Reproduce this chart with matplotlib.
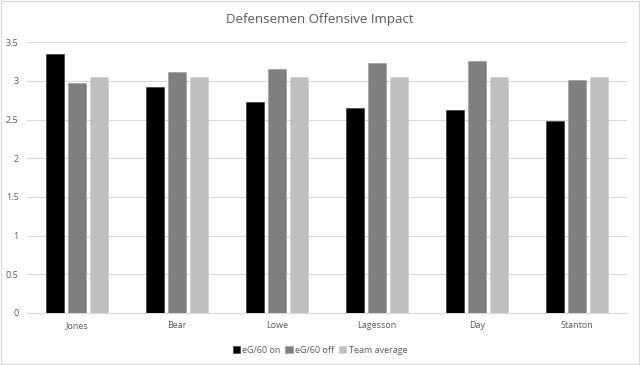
import matplotlib.pyplot as plt
import numpy as np

players = ["Jones", "Bear", "Lowe", "Lagesson", "Day", "Stanton"]
eg_on = [3.35, 2.92, 2.73, 2.65, 2.62, 2.48]
eg_off = [2.98, 3.11, 3.15, 3.235, 3.255, 3.01]
team_avg = [3.05, 3.05, 3.05, 3.05, 3.05, 3.05]

plt.rcParams['font.family'] = ['Open Sans', 'DejaVu Sans']

fig = plt.figure(figsize=(6.4, 3.65), dpi=100)
ax = fig.add_axes([27/640, 1 - 313/365, 600/640, (313 - 42.3)/365])

x = np.arange(len(players))
w = 0.18
gap = 0.04
ax.bar(x - (w + gap), eg_on, w, color="#000000", edgecolor="#404040", linewidth=0.5, label="eG/60 on", zorder=3)
ax.bar(x, eg_off, w, color="#7f7f7f", edgecolor="#a0a0a0", linewidth=0.5, label="eG/60 off", zorder=3)
ax.bar(x + (w + gap), team_avg, w, color="#bfbfbf", edgecolor="#d0d0d0", linewidth=0.5, label="Team average", zorder=3)

ax.set_xlim(-0.5, len(players) - 0.5)
ax.set_ylim(0, 3.5)
ax.set_yticks(np.arange(0, 3.51, 0.5))
ax.set_yticklabels(["0", "0.5", "1", "1.5", "2", "2.5", "3", "3.5"])
ax.set_xticks(x)
ax.set_xticklabels(players)
ax.grid(axis="y", color="#d9d9d9", linewidth=0.8, zorder=0)
for s in ["top", "right", "left"]:
    ax.spines[s].set_visible(False)
ax.spines["bottom"].set_color("#d9d9d9")
ax.tick_params(axis="both", length=0, labelsize=6.5, colors="#595959", pad=6)

fig.suptitle("Defensemen Offensive Impact", y=0.965, fontsize=9.5, color="#595959")
fig.legend(loc="center", bbox_to_anchor=(0.5, 0.04), ncol=3, frameon=False, fontsize=6.5,
           handlelength=0.8, handleheight=0.8, handletextpad=0.3, columnspacing=0.5,
           labelcolor="#595959")

fig.patches.append(plt.Rectangle((0.002, 0.003), 0.996, 0.994, transform=fig.transFigure,
                                 fill=False, edgecolor="#d9d9d9", linewidth=0.8))

fig.savefig("out.png", dpi=100)
